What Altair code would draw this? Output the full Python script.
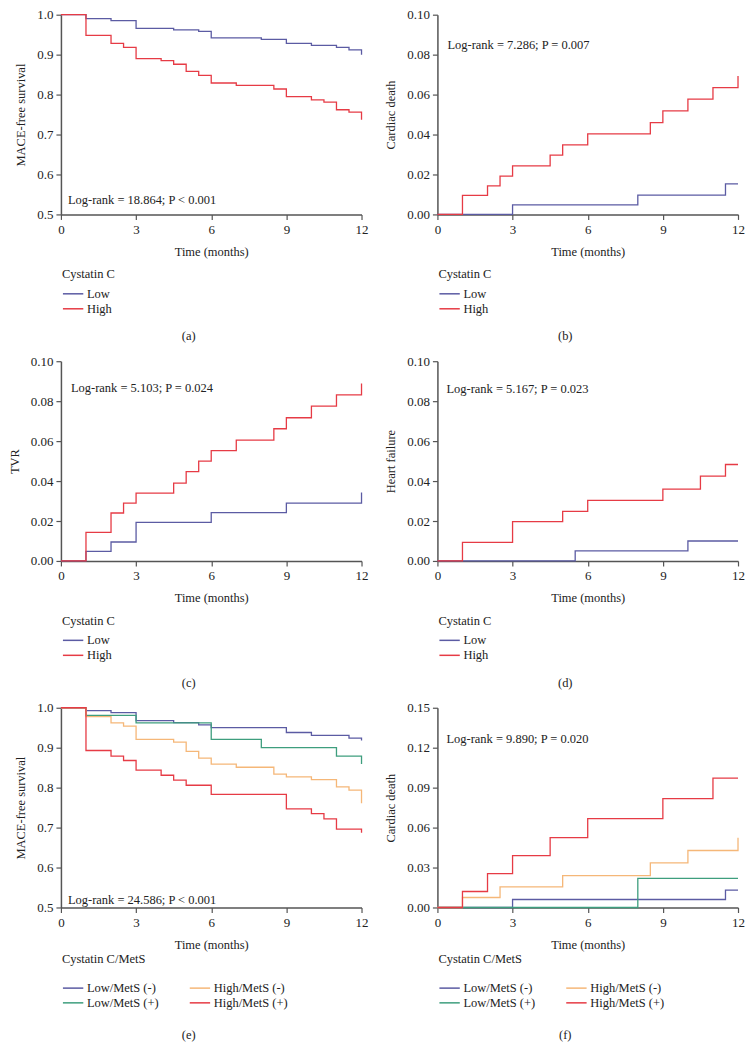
import altair as alt
import pandas as pd

FONT = "Liberation Serif"
FS = 12.5
TXT = "#222222"
C_LOW = "#5b5ba3"
C_HIGH = "#e63b45"
C_GREEN = "#3e9e7e"
C_ORANGE = "#f5b778"

# ---------------- data ----------------
x_ticks = [0, 3, 6, 9, 12]
x_title = "Time (months)"
groups2 = ["Low", "High"]
groups4 = ["Low/MetS (-)", "Low/MetS (+)", "High/MetS (-)", "High/MetS (+)"]
legend_titles = ["Cystatin C", "Cystatin C/MetS"]
y_titles = ["MACE-free survival", "Cardiac death", "TVR", "Heart failure",
            "MACE-free survival", "Cardiac death"]
annotations = ["Log-rank = 18.864; P < 0.001", "Log-rank = 7.286; P = 0.007",
               "Log-rank = 5.103; P = 0.024", "Log-rank = 5.167; P = 0.023",
               "Log-rank = 24.586; P < 0.001", "Log-rank = 9.890; P = 0.020"]
captions = ["(a)", "(b)", "(c)", "(d)", "(e)", "(f)"]
y_ticks_surv = [0.5, 0.6, 0.7, 0.8, 0.9, 1.0]
y_ticks_010 = [0.0, 0.02, 0.04, 0.06, 0.08, 0.10]
y_ticks_015 = [0.0, 0.03, 0.06, 0.09, 0.12, 0.15]

# (a) MACE-free survival
a_low_t = [0, 1, 2, 3, 4.5, 5.5, 6, 8, 9, 10, 11, 11.5, 12]
a_low_v = [1.0, 0.990, 0.985, 0.966, 0.962, 0.958, 0.942, 0.938, 0.928, 0.923, 0.918, 0.912, 0.900]
a_high_t = [0, 1, 2, 2.5, 3, 4, 4.5, 5, 5.5, 6, 7, 8.5, 9, 10, 10.5, 11, 11.5, 12]
a_high_v = [1.0, 0.948, 0.928, 0.918, 0.890, 0.885, 0.876, 0.858, 0.848, 0.829, 0.823, 0.814,
            0.795, 0.787, 0.781, 0.762, 0.756, 0.737]

# (b) Cardiac death
b_low_t = [0, 3, 8, 11.5, 12]
b_low_v = [0.0, 0.0048, 0.0097, 0.0153, 0.0153]
b_high_t = [0, 1, 2, 2.5, 3, 4.5, 5, 6, 8.5, 9, 10, 11, 12]
b_high_v = [0.0, 0.0095, 0.0143, 0.0192, 0.0243, 0.0297, 0.0348, 0.0403, 0.046, 0.0518,
            0.0577, 0.0635, 0.0693]

# (c) TVR
c_low_t = [0, 1, 2, 3, 6, 9, 12]
c_low_v = [0.0, 0.0048, 0.0095, 0.0193, 0.0242, 0.029, 0.0343]
c_high_t = [0, 1, 2, 2.5, 3, 4.5, 5, 5.5, 6, 7, 8.5, 9, 10, 11, 12]
c_high_v = [0.0, 0.0143, 0.024, 0.029, 0.034, 0.039, 0.0447, 0.050, 0.0552, 0.0605, 0.0662,
            0.0717, 0.0775, 0.0832, 0.0888]

# (d) Heart failure
d_low_t = [0, 5.5, 10, 12]
d_low_v = [0.0, 0.005, 0.010, 0.010]
d_high_t = [0, 1, 3, 5, 6, 9, 10.5, 11.5, 12]
d_high_v = [0.0, 0.0093, 0.0197, 0.0248, 0.0303, 0.036, 0.0425, 0.0483, 0.0483]

# (e) MACE-free survival by Cystatin C/MetS
e_lowm_t = [0, 1, 2, 3, 4.5, 5.5, 6, 9, 10, 11.5, 12]
e_lowm_v = [1.0, 0.993, 0.988, 0.968, 0.963, 0.957, 0.950, 0.938, 0.931, 0.924, 0.918]
e_lowp_t = [0, 1, 3, 6, 8, 11, 12]
e_lowp_v = [1.0, 0.981, 0.962, 0.921, 0.900, 0.879, 0.859]
e_highm_t = [0, 1, 2, 2.5, 3, 4.5, 5, 5.5, 6, 7, 8.5, 9, 10, 11, 11.5, 12]
e_highm_v = [1.0, 0.978, 0.962, 0.954, 0.921, 0.914, 0.891, 0.874, 0.859, 0.851, 0.834, 0.827,
             0.820, 0.802, 0.794, 0.761]
e_highp_t = [0, 1, 2, 2.5, 3, 4, 4.5, 5, 6, 9, 10, 10.5, 11, 12]
e_highp_v = [1.0, 0.893, 0.879, 0.868, 0.844, 0.831, 0.819, 0.806, 0.783, 0.747, 0.735, 0.722,
             0.696, 0.687]

# (f) Cardiac death by Cystatin C/MetS
f_lowm_t = [0, 3, 11.5, 12]
f_lowm_v = [0.0, 0.006, 0.013, 0.013]
f_lowp_t = [0, 8, 12]
f_lowp_v = [0.0, 0.0218, 0.0218]
f_highm_t = [0, 1, 2.5, 5, 8.5, 10, 12]
f_highm_v = [0.0, 0.0075, 0.0155, 0.024, 0.0335, 0.0428, 0.0523]
f_highp_t = [0, 1, 2, 3, 4.5, 6, 9, 11, 12]
f_highp_v = [0.0, 0.012, 0.0255, 0.039, 0.0525, 0.0668, 0.0818, 0.0972, 0.0972]


def panel(series, names, colors, ytitle, yticks, yfmt, legend_title, ann, ann_xy,
          caption, cap_y, legend_y, legend_tp, legend_cols):
    rows = []
    for name, (ts, vs) in zip(names, series):
        for t, v in zip(ts, vs):
            rows.append({"t": t, "v": v, "g": name})
    df = pd.DataFrame(rows)
    lines = alt.Chart(df).mark_line(interpolate="step-after", strokeWidth=1.3).encode(
        x=alt.X("t:Q", scale=alt.Scale(domain=[0, 12], nice=False, zero=False),
                axis=alt.Axis(values=x_ticks, title=x_title, format="d")),
        y=alt.Y("v:Q", scale=alt.Scale(domain=[yticks[0], yticks[-1]], nice=False, zero=False),
                axis=alt.Axis(values=yticks, title=ytitle, format=yfmt)),
        color=alt.Color("g:N", scale=alt.Scale(domain=names, range=colors),
                        legend=alt.Legend(title=legend_title, orient="none", legendX=1,
                                          legendY=legend_y, columns=legend_cols,
                                          titlePadding=legend_tp)),
    )
    text = alt.Chart(pd.DataFrame({"s": [ann]})).mark_text(
        align="left", baseline="middle", font=FONT, fontSize=FS, color=TXT
    ).encode(x=alt.value(ann_xy[0]), y=alt.value(ann_xy[1]), text="s:N")
    cap = alt.Chart(pd.DataFrame({"s": [caption]})).mark_text(
        align="center", baseline="middle", font=FONT, fontSize=FS, color=TXT
    ).encode(x=alt.value(128), y=alt.value(cap_y), text="s:N")
    return alt.layer(lines, text, cap).properties(width=301, height=200)


pa = panel([(a_low_t, a_low_v), (a_high_t, a_high_v)], groups2, [C_LOW, C_HIGH],
           y_titles[0], y_ticks_surv, ".1f", legend_titles[0], annotations[0], (7, 186),
           captions[0], 322, 254, 6, 1)
pb = panel([(b_low_t, b_low_v), (b_high_t, b_high_v)], groups2, [C_LOW, C_HIGH],
           y_titles[1], y_ticks_010, ".2f", legend_titles[0], annotations[1], (10, 30),
           captions[1], 322, 254, 6, 1)
pc = panel([(c_low_t, c_low_v), (c_high_t, c_high_v)], groups2, [C_LOW, C_HIGH],
           y_titles[2], y_ticks_010, ".2f", legend_titles[0], annotations[2], (10, 27),
           captions[2], 322, 254, 6, 1)
pd_ = panel([(d_low_t, d_low_v), (d_high_t, d_high_v)], groups2, [C_LOW, C_HIGH],
            y_titles[3], y_ticks_010, ".2f", legend_titles[0], annotations[3], (9, 28),
            captions[3], 322, 254, 6, 1)
pe = panel([(e_lowm_t, e_lowm_v), (e_lowp_t, e_lowp_v), (e_highm_t, e_highm_v),
            (e_highp_t, e_highp_v)], groups4, [C_LOW, C_GREEN, C_ORANGE, C_HIGH],
           y_titles[4], y_ticks_surv, ".1f", legend_titles[1], annotations[4], (7, 193),
           captions[4], 328, 246, 15, 2)
pf = panel([(f_lowm_t, f_lowm_v), (f_lowp_t, f_lowp_v), (f_highm_t, f_highm_v),
            (f_highp_t, f_highp_v)], groups4, [C_LOW, C_GREEN, C_ORANGE, C_HIGH],
           y_titles[5], y_ticks_015, ".2f", legend_titles[1], annotations[5], (9, 31),
           captions[5], 328, 246, 15, 2)

chart = alt.concat(
    pa, pb, pc, pd_, pe, pf, columns=2,
    spacing={"row": 147, "column": 76}, bounds="flush"
).resolve_scale(
    x="independent", y="independent", color="independent"
).resolve_legend(color="independent").configure_view(stroke=None).configure_axis(
    labelFont=FONT, titleFont=FONT, labelFontSize=13, titleFontSize=FS,
    titleFontWeight="normal", labelColor=TXT, titleColor=TXT,
    domainColor="#555555", tickColor="#555555", domainWidth=1.5, tickWidth=1.2,
    tickSize=5, grid=False, labelFlush=False
).configure_axisX(labelPadding=4, titlePadding=9).configure_axisY(
    labelPadding=3, titlePadding=9
).configure_legend(
    titleFont=FONT, labelFont=FONT, titleFontSize=FS, labelFontSize=FS,
    titleFontWeight="normal", titleColor=TXT, labelColor=TXT,
    symbolType="M-1,0H2.4", symbolSize=144, symbolStrokeWidth=1.5,
    labelOffset=11, rowPadding=1, columnPadding=28, padding=0
).properties(padding={"left": 0, "top": 0, "right": 0, "bottom": 0})

chart.save("out.html", embed_options={"renderer": "svg", "actions": False})
